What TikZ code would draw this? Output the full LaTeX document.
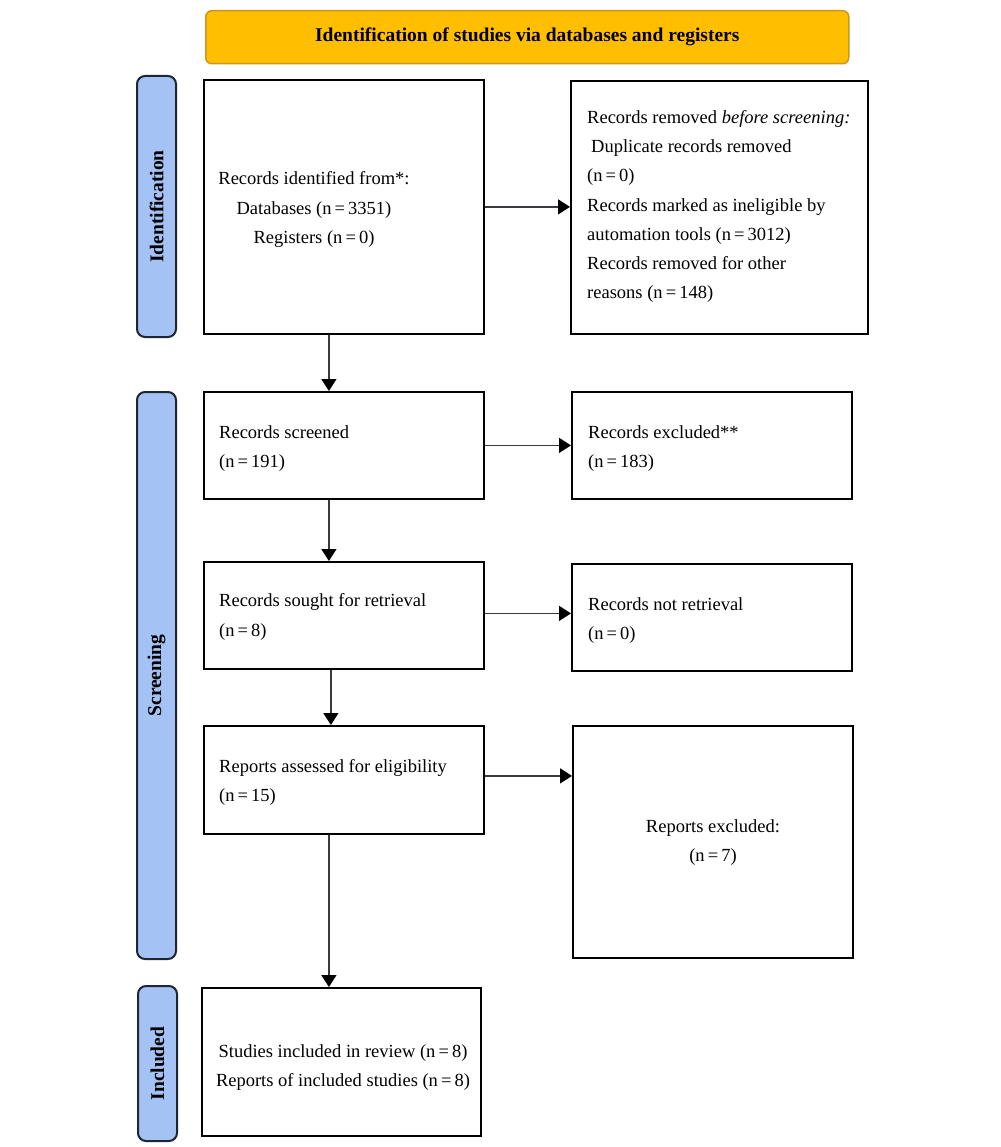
\documentclass[tikz,border=0pt]{standalone}
\usepackage{fontspec}
\setmainfont{Liberation Serif}
\usetikzlibrary{arrows.meta}
\definecolor{titlefill}{RGB}{255,190,0}
\definecolor{titleline}{RGB}{205,150,30}
\definecolor{barfill}{RGB}{164,194,244}
\definecolor{barline}{RGB}{30,38,50}
\definecolor{arrline}{RGB}{55,58,62}
\tikzset{
  box/.style={draw=black, line width=1.8pt, fill=white, anchor=north west, inner sep=0pt},
  sidebar/.style={draw=barline, line width=2pt, fill=barfill, rounded corners=8pt, anchor=north west, inner sep=0pt, minimum width=39pt},
  sidelabel/.style={rotate=90, font=\fontsize{19.5}{22}\selectfont\bfseries, inner sep=0pt},
  titlebox/.style={draw=titleline, line width=1.5pt, fill=titlefill, rounded corners=6pt, anchor=north west, inner sep=0pt, font=\fontsize{19.5}{22}\selectfont\bfseries},
  txt/.style={inner sep=0pt, font=\fontsize{18.5}{29.2}\selectfont, align=left},
  ctxt/.style={inner sep=0pt, font=\fontsize{18.5}{29.2}\selectfont, align=center},
  arr/.style={draw=arrline, line width=1.5pt, -{Triangle[length=12pt,width=15pt,color=black]}}
}
\begin{document}
\begin{tikzpicture}[x=1pt,y=-1pt]
\useasboundingbox (0,0) rectangle (1000,1147);
% title
\node[titlebox, minimum width=643pt, minimum height=53pt] (title) at (205,10) {Identification of studies via databases and registers};
% side bars
\node[sidebar, minimum height=261pt] (barid) at (136,75) {};
\node[sidebar, minimum height=567pt] (barsc) at (136,391) {};
\node[sidebar, minimum height=155pt] (barin) at (137,985) {};
\node[sidelabel] (lblid) at (barid.center) {Identification};
\node[sidelabel] (lblsc) at (barsc.center) {Screening};
\node[sidelabel] (lblin) at (barin.center) {Included};
% boxes
\node[box, minimum width=280pt, minimum height=254pt] (b1) at (203,79) {};
\node[box, minimum width=297pt, minimum height=253pt] (b2) at (570,80) {};
\node[box, minimum width=280pt, minimum height=107pt] (b3) at (203,391) {};
\node[box, minimum width=280pt, minimum height=107pt] (b4) at (571,391) {};
\node[box, minimum width=280pt, minimum height=107pt] (b5) at (203,561) {};
\node[box, minimum width=280pt, minimum height=107pt] (b6) at (571,563) {};
\node[box, minimum width=280pt, minimum height=108pt] (b7) at (203,725) {};
\node[box, minimum width=280pt, minimum height=232pt] (b8) at (572,725) {};
\node[box, minimum width=279pt, minimum height=148pt] (b9) at (201,987) {};
% texts
\node[ctxt] (t1) at (314,209.5) {Records identified from*:\\Databases (n\,=\,3351)\\Registers (n\,=\,0)};
\node[txt, anchor=west] (t2) at (587,206.5) {Records removed \textit{before screening:}\\\hspace{4pt}Duplicate records removed\\(n\,=\,0)\\Records marked as ineligible by\\automation tools (n\,=\,3012)\\Records removed for other\\reasons (n\,=\,148)};
\node[txt, anchor=west] (t3) at (219,448.5) {Records screened\\(n\,=\,191)};
\node[txt, anchor=west] (t4) at (588,448.5) {Records excluded**\\(n\,=\,183)};
\node[txt, anchor=west] (t5) at (219,617) {Records sought for retrieval\\(n\,=\,8)};
\node[txt, anchor=west] (t6) at (588,620.5) {Records not retrieval\\(n\,=\,0)};
\node[txt, anchor=west] (t7) at (219,782.5) {Reports assessed for eligibility\\(n\,=\,15)};
\node[ctxt] (t8) at (713,842.5) {Reports excluded:\\(n\,=\,7)};
\node[ctxt] (t9) at (343,1067.5) {Studies included in review (n\,=\,8)\\Reports of included studies (n\,=\,8)};
% horizontal arrows
\draw[arr] (b1.east) -- (b1.east -| b2.west);
\draw[arr] (b3.east) -- (b3.east -| b4.west);
\draw[arr] ([yshift=2pt]b5.east) -- ([yshift=2pt]b5.east -| b6.west);
\draw[arr] ([yshift=4pt]b7.east) -- ([yshift=4pt]b7.east -| b8.west);
% vertical arrows
\draw[arr] ([xshift=-15pt]b1.south) -- ([xshift=-15pt]b1.south |- b3.north);
\draw[arr] ([xshift=-15pt]b3.south) -- ([xshift=-15pt]b3.south |- b5.north);
\draw[arr] ([xshift=-13pt]b5.south) -- ([xshift=-13pt]b5.south |- b7.north);
\draw[arr] ([xshift=-15pt]b7.south) -- ([xshift=-15pt]b7.south |- b9.north);
\end{tikzpicture}
\end{document}
